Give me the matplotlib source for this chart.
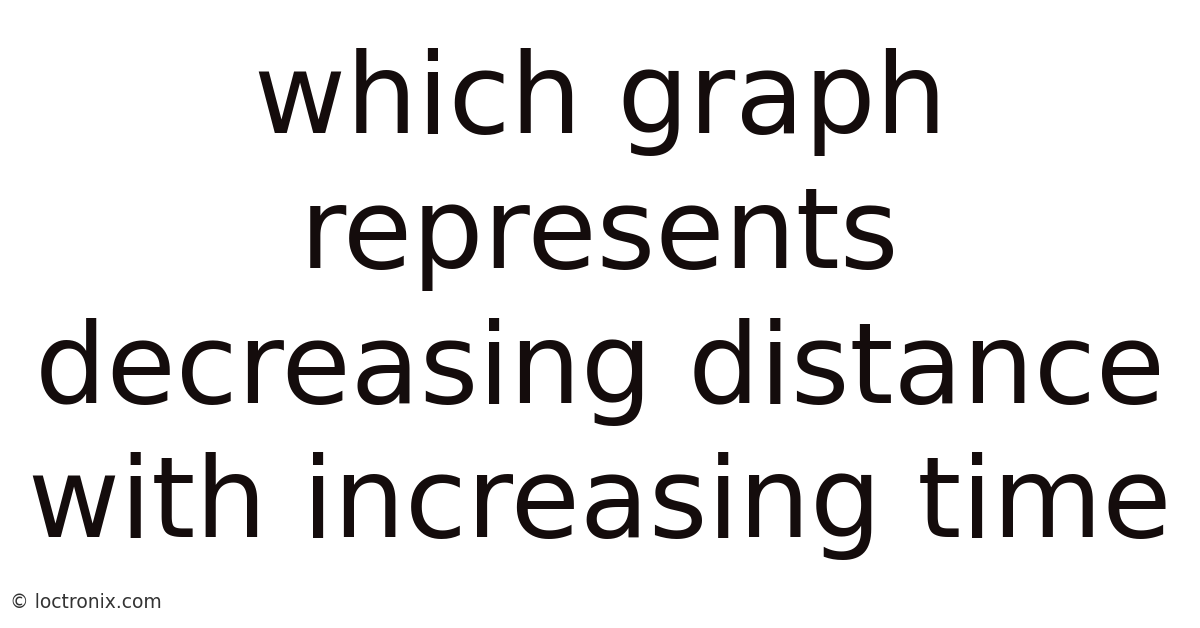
import matplotlib
matplotlib.use("Agg")
import matplotlib.pyplot as plt

title_lines = ["which graph", "represents", "decreasing distance", "with increasing time"]
watermark = "© loctronix.com"

fig = plt.figure(figsize=(12, 6.28), dpi=100)
fig.patch.set_facecolor("white")

baselines = [133, 268, 403, 537]
for line, yb in zip(title_lines, baselines):
    fig.text(0.5, 1 - yb / 628, line, ha="center", va="baseline",
             fontsize=81, color="#140c0c", family="DejaVu Sans")

fig.text(10 / 1200, 1 - 603 / 628, watermark, ha="left", va="center",
         fontsize=13.5, color="#333333", family="DejaVu Sans")

fig.savefig("out.png", dpi=100, facecolor="white")
